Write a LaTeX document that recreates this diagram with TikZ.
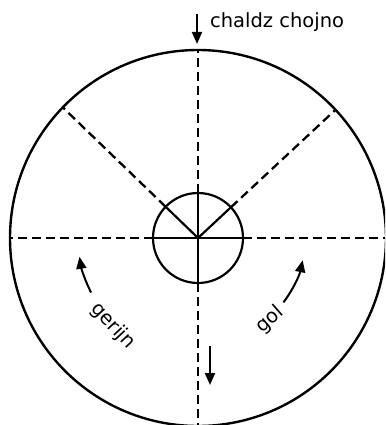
\documentclass[tikz,border=0pt]{standalone}
\usepackage{fontspec}
\setmainfont{DejaVu Sans}
\usetikzlibrary{arrows.meta,calc}

\begin{document}
\begin{tikzpicture}[x=1pt, y=-1pt, line width=2.2pt,
    rim/.style={line width=2.4pt},
    spoke/.style={line width=2.3pt, dash pattern=on 9pt off 5pt},
    hub/.style={line width=2.2pt},
    flow/.style={-{Triangle[length=12pt,width=10pt]}, line width=2pt},
    lbl/.style={font=\fontsize{19.5}{22}\selectfont, inner sep=0pt}]
    \useasboundingbox (0,0) rectangle (385,425);
    \clip (0,0) rectangle (385,425);
    \coordinate (c) at (198,238);
    % outer rim, spoke ends on rim and on hub
    \draw[rim] (c) circle[radius=188pt];
    \foreach \name/\ang in {top/90, bot/-90, lft/180, rgt/0, ul/136, ur/43} {
        \coordinate (\name) at ($(c)+(\ang:188pt)$);
        \coordinate (h\name) at ($(c)+(\ang:45pt)$);
    }
    % dashed spokes outside the hub
    \foreach \name in {top,bot,lft,rgt,ul,ur}
        \draw[spoke] (h\name) -- (\name);
    % hub
    \draw[hub] (c) circle[radius=45pt];
    \foreach \name in {top,bot,lft,rgt,ul,ur}
        \draw[hub] (c) -- (h\name);
    % inlet at the top
    \coordinate (in0) at (197,14);
    \coordinate (in1) at (197,44);
    \draw[flow] (in0) -- (in1);
    \node[lbl, anchor=west] (inlet) at (209,22) {chaldz chojno};
    % outlet arrow
    \coordinate (out0) at (210,346);
    \coordinate (out1) at (210,385);
    \draw[flow] (out0) -- (out1);
    % turning arrows
    \coordinate (l0) at ($(c)+(207:120pt)$);
    \draw[flow] (l0) arc[start angle=207, end angle=189, radius=120pt];
    \node[lbl, rotate=-47] (gerijn) at (113,326) {gerijn};
    \coordinate (r0) at ($(c)+(-37:107pt)$);
    \draw[flow] (r0) arc[start angle=-37, end angle=-12, radius=107pt];
    \node[lbl, rotate=41] (gol) at (270,320) {gol};
\end{tikzpicture}
\end{document}
